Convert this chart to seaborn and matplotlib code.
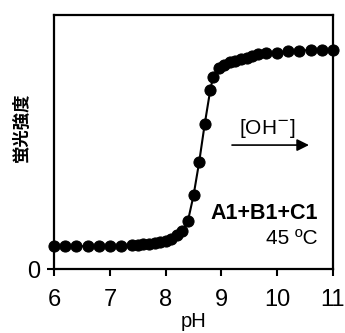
import matplotlib
matplotlib.use('Agg')
import matplotlib.pyplot as plt
import seaborn as sns
import pandas as pd

# pH titration of fluorescence (A1+B1+C1, 45 C)
ph = [6.0, 6.2, 6.4, 6.6, 6.8, 7.0, 7.2, 7.4, 7.5, 7.6, 7.7, 7.8, 7.9, 8.0,
      8.1, 8.2, 8.3, 8.4, 8.5, 8.6, 8.7, 8.8, 8.85, 8.95, 9.05, 9.15, 9.25,
      9.35, 9.45, 9.55, 9.65, 9.8, 10.0, 10.2, 10.4, 10.6, 10.8, 11.0]
intensity = [0.090, 0.090, 0.090, 0.090, 0.090, 0.090, 0.090, 0.093, 0.095,
             0.097, 0.100, 0.103, 0.107, 0.112, 0.120, 0.135, 0.150, 0.190,
             0.290, 0.420, 0.570, 0.705, 0.755, 0.790, 0.805, 0.815, 0.820,
             0.825, 0.830, 0.838, 0.845, 0.850, 0.852, 0.857, 0.860, 0.862,
             0.862, 0.862]
x_ticks = [6, 7, 8, 9, 10, 11]

df = pd.DataFrame({'pH': ph, 'I': intensity})

sns.set_style('ticks')
plt.rcParams['font.family'] = ['Liberation Sans', 'Noto Sans CJK JP', 'DejaVu Sans']
plt.rcParams['text.color'] = 'black'
plt.rcParams['axes.labelcolor'] = 'black'

fig = plt.figure(figsize=(3.45, 3.33), dpi=100)
ax = fig.add_axes([0.157, 0.192, 0.808, 0.763])

sns.lineplot(data=df, x='pH', y='I', ax=ax, color='black', linewidth=1.5,
             marker='o', markersize=8, markeredgecolor='black',
             markerfacecolor='black', clip_on=False)

ax.set_xlim(6, 11)
ax.set_ylim(0, 1.0)
ax.set_xticks(x_ticks)
ax.set_xticklabels([str(t) for t in x_ticks], fontsize=17)
ax.set_yticks([0])
ax.set_yticklabels(['0'], fontsize=17)
ax.tick_params(direction='out', length=5, width=1.5, colors='black',
               labelcolor='black')
ax.tick_params(axis='x', pad=9)
ax.tick_params(axis='y', pad=5)

for s in ax.spines.values():
    s.set_linewidth(1.6)
    s.set_color('black')
    s.set_visible(True)

ax.set_xlabel('pH', fontsize=14.5)
ax.xaxis.set_label_coords(0.5, -0.17)
ax.set_ylabel('蛍光強度', fontsize=12.5, fontweight='bold',
              family=['Noto Sans CJK JP'])
ax.yaxis.set_label_coords(-0.085, 0.56)

ax.text(0.765, 0.555, '[OH$^{-}$]', transform=ax.transAxes, fontsize=15,
        ha='center', va='center')
ax.annotate('', xy=(10.62, 0.488), xytext=(9.14, 0.488),
            arrowprops=dict(arrowstyle='-|>', color='black', lw=1.2,
                            mutation_scale=18))
ax.text(0.945, 0.22, 'A1+B1+C1', transform=ax.transAxes, fontsize=15.5,
        fontweight='bold', ha='right', va='center')
ax.text(0.945, 0.12, '45 ºC', transform=ax.transAxes, fontsize=15,
        ha='right', va='center')

fig.savefig('out.png', dpi=100)
